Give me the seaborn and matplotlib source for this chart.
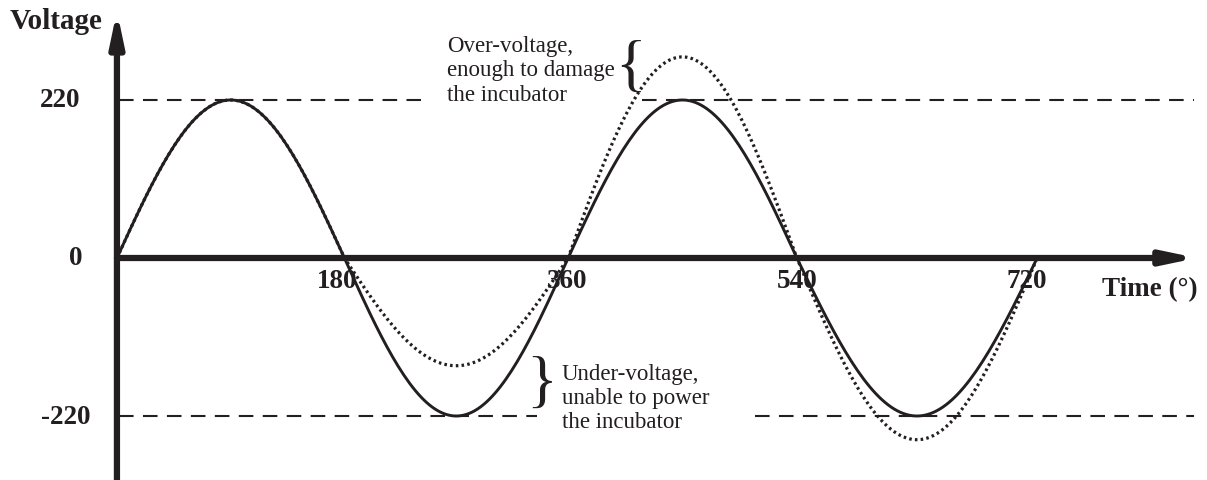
import numpy as np
import pandas as pd
import matplotlib.pyplot as plt
import seaborn as sns

# Datos: cruces por cero de cada semiciclo (grados) y su amplitud
cruces = [0, 178, 353, 532, 720]
pico_normal = [220, -220, 220, -220]
pico_fluctuante = [220, -150, 280, -253]

ticks_tiempo = [180, 360, 540, 720]
ticks_voltaje = [220, 0, -220]

texto_sobre = "Over-voltage,\nenough to damage\nthe incubator"
texto_bajo = "Under-voltage,\nunable to power\nthe incubator"

color = "#231f20"


# Construir las curvas a partir de las amplitudes de cada semiciclo
def construir_onda(picos, nombre):
    filas = []
    for i, pico in enumerate(picos):
        a, b = cruces[i], cruces[i + 1]
        theta = np.linspace(a, b, 80)
        v = pico * np.sin(np.pi * (theta - a) / (b - a))
        for t, val in zip(theta, v):
            filas.append({"tiempo": t, "voltaje": val, "serie": nombre})
    return pd.DataFrame(filas)


df_normal = construir_onda(pico_normal, "normal")
df_fluct = construir_onda(pico_fluctuante, "fluctuante")

sns.set_style("white")
plt.rcParams["font.family"] = ["Liberation Serif", "DejaVu Serif"]

fig = plt.figure(figsize=(12.07, 4.81), dpi=100)
ax = fig.add_axes([0, 0, 1, 1])

# Líneas de referencia discontinuas
for nivel, tramos in [(220, [(2, 238), (411, 843)]), (-220, [(2, 329), (499, 843)])]:
    for x0, x1 in tramos:
        ax.plot([x0, x1], [nivel, nivel], color=color, lw=1.5,
                dashes=(7, 4.5), zorder=1)

# Curvas
sns.lineplot(data=df_fluct, x="tiempo", y="voltaje", ax=ax, color=color,
             lw=2.3, linestyle=(0, (0.8, 1.0)), sort=False, zorder=2)
sns.lineplot(data=df_normal, x="tiempo", y="voltaje", ax=ax, color=color,
             lw=2.1, sort=False, zorder=3)
ax.set_xlim(-91.5, 852.9)
ax.set_ylim(-309.1, 360.6)
ax.axis("off")

# Ejes con flechas
ax.annotate("", xy=(0, 344), xytext=(0, -309), zorder=4,
            arrowprops=dict(arrowstyle="-|>,head_length=1.9,head_width=0.4",
                            lw=4.5, color=color, shrinkA=0, shrinkB=0))
ax.annotate("", xy=(845, 0), xytext=(0, 0), zorder=4,
            arrowprops=dict(arrowstyle="-|>,head_length=1.9,head_width=0.4",
                            lw=4.5, color=color, shrinkA=0, shrinkB=0))

# Etiquetas de los ejes
fuente = dict(fontsize=19.5, fontweight="bold", color=color)
for t in ticks_tiempo:
    ax.text(t - 8, -32, str(t), ha="center", va="center", **fuente)
for v, xr in zip(ticks_voltaje, [-29, -27, -21]):
    ax.text(xr, v, str(v), ha="right", va="center", **fuente)
ax.text(-84, 330, "Voltage", ha="left", va="center", fontsize=21,
        fontweight="bold", color=color)
ax.text(771, -43, "Time (°)", ha="left", va="center", fontsize=19.5,
        fontweight="bold", color=color)

# Anotaciones
ax.text(258, 262, texto_sobre, ha="left", va="center", fontsize=16.5,
        color=color, linespacing=1.2)
ax.text(348, -194, texto_bajo, ha="left", va="center", fontsize=16.5,
        color=color, linespacing=1.2)
ax.text(402, 264, "{", ha="center", va="center", fontsize=46, color=color)
ax.text(332, -176, "}", ha="center", va="center", fontsize=46, color=color)

plt.savefig("out.png", dpi=100)
plt.close()
